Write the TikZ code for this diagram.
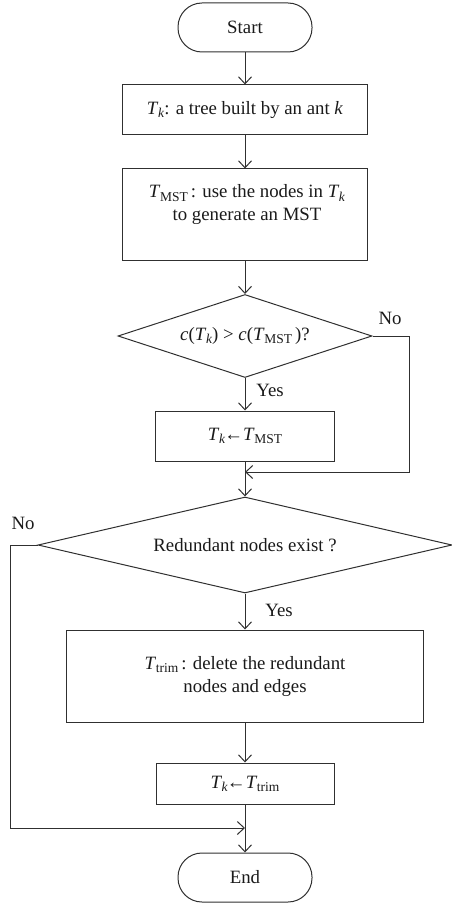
\documentclass[tikz,border=0pt]{standalone}
\usepackage{fontspec}
\setmainfont{Liberation Serif}
\usetikzlibrary{arrows.meta,shapes.geometric}
\definecolor{ln}{HTML}{303030}
\definecolor{tx}{HTML}{1A1A1A}
\newcommand{\Tsb}[1]{\textit{T}\kern-0.02em\raisebox{-0.35ex}{\fontsize{13.5}{13.5}\selectfont #1}}
\begin{document}
\begin{tikzpicture}[x=1pt,y=-1pt, font=\fontsize{18.8}{23}\selectfont,
  every node/.style={text=tx},
  box/.style={draw=ln, line width=1pt, rectangle, inner sep=0pt, align=center},
  term/.style={draw=ln, line width=1pt, rounded corners=24pt, inner sep=0pt, minimum width=134pt, minimum height=49pt},
  dec/.style={draw=ln, line width=1pt, diamond, inner sep=0pt},
  conn/.style={draw=ln, line width=1pt, -{Straight Barb[length=7pt,width=13pt]}},
  lbl/.style={inner sep=0pt}]
\useasboundingbox (0,0) rectangle (452,904);

\node[term] (start) at (245,27.5) {Start};
\node[box, minimum width=245pt, minimum height=50pt] (b1) at (245,110) {\Tsb{\textit{k}}: a tree built by an ant \textit{k}};
\node[box, minimum width=245pt, minimum height=91pt] (b2) at (245,214.5) {};
\node[lbl, align=center] (b2t) at (247,205) {\Tsb{MST}\,: use the nodes in \Tsb{\textit{k}}\\to generate an MST};
\node[dec, minimum width=254pt, minimum height=83pt, aspect=3] (d1) at (245,336) {\textit{c}(\Tsb{\textit{k}}) > \textit{c}(\Tsb{MST}\,)?};
\node[box, minimum width=179pt, minimum height=50pt] (b3) at (245,436) {\Tsb{\textit{k}}\kern-0.05em←\Tsb{MST}};
\node[dec, minimum width=414pt, minimum height=96pt, aspect=4.3] (d2) at (245,545) {Redundant nodes exist ?};
\node[box, minimum width=357pt, minimum height=92pt] (b4) at (245,676) {\Tsb{trim}\,: delete the redundant\\nodes and edges};
\node[box, minimum width=178pt, minimum height=41pt] (b5) at (245,783.5) {\Tsb{\textit{k}}\kern-0.05em←\Tsb{trim}};
\node[term] (end) at (245,877.5) {End};

\coordinate (nr) at (409,336);
\coordinate (j1) at (245,472);
\coordinate (nl) at (10,545);
\coordinate (j2) at (245,828);

\draw[conn] (start) -- (b1);
\draw[conn] (b1) -- (b2);
\draw[conn] (b2) -- (d1);
\draw[conn] (d1) -- (b3);
\draw[conn] (b3) -- (d2.north);
\draw[conn] (d1.east) -- (nr) |- (j1);
\draw[conn] (d2) -- (b4);
\draw[conn] (b4) -- (b5);
\draw[conn] (b5) -- (end);
\draw[conn] (d2.west) -- (nl) |- (j2);

\node[lbl] (no1) at (390,318) {No};
\node[lbl] (yes1) at (270,390) {Yes};
\node[lbl] (no2) at (23,523) {No};
\node[lbl] (yes2) at (279,610) {Yes};
\end{tikzpicture}
\end{document}
